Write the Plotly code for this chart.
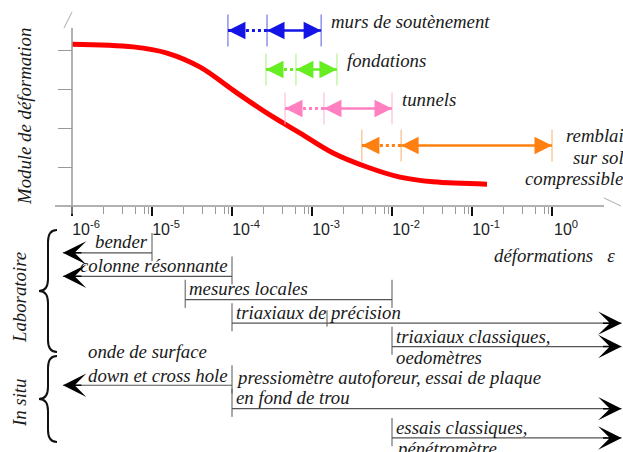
import math
import plotly.graph_objects as go

W, H = 623, 452

# ---- data -----------------------------------------------------------------
# modulus vs strain (arbitrary units)
strain_curve = [1e-6, 5.8e-6, 1.54e-5, 4.0e-5, 1.03e-4, 2.74e-4, 4.34e-4, 7.1e-4,
                1.83e-3, 4.87e-3, 1.26e-2, 3.26e-2, 0.154]
modulus_curve = [4.15, 4.08, 3.92, 3.56, 2.97, 2.38, 2.13, 1.87, 1.36, 1.0, 0.74, 0.62, 0.56]

# strain ranges of the structures (dotted part from -> mid, solid part mid -> to)
app_labels = ["murs de soutènement", "fondations", "tunnels",
              "remblais<br>sur sols<br>compressibles"]
app_from = [8.9e-5, 2.66e-4, 4.6e-4, 4.2e-3]
app_mid = [2.74e-4, 6.3e-4, 1.41e-3, 1.3e-2]
app_to = [1.3e-3, 2.05e-3, 1.0e-2, 1.0]

# strain ranges of the tests (None = open ended, arrow)
test_labels = [["bender"], ["colonne résonnante"], ["mesures locales"],
               ["triaxiaux de précision"], ["triaxiaux classiques,", "oedomètres"],
               ["onde de surface", "down et cross hole"],
               ["pressiomètre autoforeur, essai de plaque", "en fond de trou"],
               ["essais classiques,", "pénétromètre"]]
test_from = [None, None, 2.6e-5, 1e-4, 1e-2, None, 1e-4, 1e-2]
test_to = [1e-5, 1e-4, 1e-2, None, None, 1e-4, None, None]
test_marks = [None, None, None, 1.54e-3, None, None, None, None]

decades = [1e-6, 1e-5, 1e-4, 1e-3, 1e-2, 1e-1, 1e0]
decade_text = ["10<sup>-6</sup>", "10<sup>-5</sup>", "10<sup>-4</sup>", "10<sup>-3</sup>",
               "10<sup>-2</sup>", "10<sup>-1</sup>", "10<sup>0</sup>"]
minor_steps = [2.5, 4.3, 6.3, 8.1, 9.0]

# ---- layout helpers ---------------------------------------------------------
app_colors = ["#1414e6", "#66ee22", "#ff7fc0", "#ff8010"]
app_bar_colors = ["#5a5ae0", "#a8f080", "#ffb0d8", "#f5b070"]
app_rows = [4.5, 3.5, 2.5, 1.55]
test_rows = [2, 3, 4, 5, 6, 7.65, 8.65, 9.9]
test_text_mode = ["above", "above", "above", "above", "middle", "above", "above", "middle"]
OPEN_LO, OPEN_HI = 7.7e-7, 7.4
X_RANGE = [-6.9, 0.8875]
Y_SPLIT = 206  # px of the strain axis

SERIF = "Liberation Serif"
FS = 18.8
TXT = "#1a1a1a"


def px(x, y):
    return x / W, 1 - y / H


def path(points_cmds):
    out = []
    for cmd, pts in points_cmds:
        coords = " ".join("%.5f,%.5f" % px(*p) for p in pts)
        out.append(cmd + coords)
    return " ".join(out)


def brace(x_arm, x_tip, y0, y1):
    xm = (x_arm + x_tip) / 2
    ym = (y0 + y1) / 2
    return path([
        ("M", [(x_arm, y0)]),
        ("Q", [(xm, y0), (xm, y0 + 12)]),
        ("L", [(xm, ym - 12)]),
        ("Q", [(xm, ym), (x_tip, ym)]),
        ("Q", [(xm, ym), (xm, ym + 12)]),
        ("L", [(xm, y1 - 12)]),
        ("Q", [(xm, y1), (x_arm, y1)]),
    ])


def head(x, y, yref, direction, color, style, size, width, tail):
    return dict(x=math.log10(x), y=y, xref="x", yref=yref, text="", showarrow=True,
                ax=-direction * tail, ay=0, arrowhead=style, arrowsize=size,
                arrowwidth=width, arrowcolor=color, standoff=0)


def label(text, x, y, yref, xanchor, xshift=0, yshift=0, size=FS, xref="x", align="left"):
    return dict(x=x, y=y, xref=xref, yref=yref, text="<i>%s</i>" % text, showarrow=False,
                xanchor=xanchor, yanchor="middle", xshift=xshift, yshift=yshift,
                align=align, font=dict(family=SERIF, size=size, color=TXT))


def side_title(text, x, y):
    return dict(x=x / W, y=1 - y / H, xref="paper", yref="paper", text="<i>%s</i>" % text,
                showarrow=False, textangle=-90, xanchor="center", yanchor="middle",
                font=dict(family=SERIF, size=FS, color=TXT))


fig = go.Figure()
annotations = []

# modulus curve
fig.add_trace(go.Scatter(x=strain_curve, y=modulus_curve, mode="lines",
                         line=dict(color="#ff0000", width=5, shape="spline"),
                         xaxis="x", yaxis="y", hoverinfo="skip"))

# structures
for i, name in enumerate(app_labels):
    y, c = app_rows[i], app_colors[i]
    xs, ys = [], []
    for v in (app_from[i], app_mid[i], app_to[i]):
        xs += [v, v, None]
        ys += [y - 0.41, y + 0.41, None]
    fig.add_trace(go.Scatter(x=xs, y=ys, mode="lines", xaxis="x", yaxis="y",
                             line=dict(color=app_bar_colors[i], width=1), hoverinfo="skip"))
    fig.add_trace(go.Scatter(x=[app_from[i], app_mid[i]], y=[y, y], mode="lines",
                             xaxis="x", yaxis="y", hoverinfo="skip",
                             line=dict(color=c, width=3, dash="dot")))
    fig.add_trace(go.Scatter(x=[app_mid[i], app_to[i]], y=[y, y], mode="lines",
                             xaxis="x", yaxis="y", hoverinfo="skip",
                             line=dict(color=c, width=2.5)))
    annotations.append(head(app_from[i], y, "y", -1, c, 2, 1.4, 2.5, 12))
    annotations.append(head(app_mid[i], y, "y", -1, c, 2, 1.4, 2.5, 12))
    annotations.append(head(app_to[i], y, "y", 1, c, 2, 1.4, 2.5, 12))
    lines = name.split("<br>")
    if len(lines) == 1:
        annotations.append(label(name, math.log10(app_to[i]), y, "y", "left", 8, 9))
    else:
        for k, ln in enumerate(lines):
            annotations.append(label(ln, 1.016, y, "y", "right", 0, 10 - 21.5 * k,
                                     xref="paper"))

# tests
for i, lines in enumerate(test_labels):
    y = test_rows[i]
    lo = test_from[i] if test_from[i] is not None else OPEN_LO
    hi = test_to[i] if test_to[i] is not None else OPEN_HI
    fig.add_trace(go.Scatter(x=[lo, hi], y=[y, y], mode="lines", xaxis="x", yaxis="y2",
                             line=dict(color="#555555", width=1.2), hoverinfo="skip"))
    xs, ys = [], []
    for v in (test_from[i], test_to[i]):
        if v is not None:
            xs += [v, v, None]
            ys += [y - 0.85, y + 0.35, None]
    if test_marks[i] is not None:
        xs += [test_marks[i], test_marks[i], None]
        ys += [y - 0.55, y + 0.15, None]
    fig.add_trace(go.Scatter(x=xs, y=ys, mode="lines", xaxis="x", yaxis="y2",
                             line=dict(color="#555555", width=1), hoverinfo="skip"))
    if test_from[i] is None:
        annotations.append(head(OPEN_LO, y, "y2", -1, "#000000", 3, 2.6, 1.5, 20))
    if test_to[i] is None:
        annotations.append(head(OPEN_HI, y, "y2", 1, "#000000", 3, 2.6, 1.5, 20))

    if test_text_mode[i] == "above":
        shifts = [11 + 20.5 * (len(lines) - 1 - k) for k in range(len(lines))]
    else:
        shifts = [10.5, -10.5]
    if test_from[i] is None:
        annotations.append(label("<br>".join(lines), math.log10(test_to[i]), y, "y2",
                                 "right", -2, shifts[-1] + 10.5 * (len(lines) - 1)))
    else:
        for ln, s in zip(lines, shifts):
            annotations.append(label(ln, math.log10(test_from[i]), y, "y2", "left", 2, s))

# axis titles and group names
annotations += [
    side_title("Module de déformation", 24, 117),
    side_title("Laboratoire", 19, 298),
    side_title("In situ", 19, 403),
    dict(x=617 / W, y=1 - 255 / H, xref="paper", yref="paper", xanchor="right",
         text="<i>déformations\u00a0\u00a0 ε</i>", showarrow=False,
         font=dict(family=SERIF, size=FS, color=TXT)),
]

shapes = [
    # strain axis with open arrow
    dict(type="line", xref="paper", yref="paper", x0=55 / W, x1=604 / W,
         y0=1 - Y_SPLIT / H, y1=1 - Y_SPLIT / H, line=dict(color="#999999", width=1.5)),
    dict(type="path", xref="paper", yref="paper",
         path=path([("M", [(604, 198)]), ("L", [(621, 206), (604, 214)])]) + " Z",
         line=dict(color="#c0c0c0", width=1), fillcolor="white"),
    # modulus axis with open arrow
    dict(type="line", xref="paper", yref="paper", x0=72 / W, x1=72 / W,
         y0=1 - 214 / H, y1=1 - 28 / H, line=dict(color="#999999", width=1.5)),
    dict(type="path", xref="paper", yref="paper",
         path=path([("M", [(64, 28)]), ("L", [(72, 12), (80, 28)])]) + " Z",
         line=dict(color="#c0c0c0", width=1), fillcolor="white"),
    # braces
    dict(type="path", xref="paper", yref="paper", path=brace(57, 39, 230, 352),
         line=dict(color="#111111", width=2)),
    dict(type="path", xref="paper", yref="paper", path=brace(57, 39, 356, 442),
         line=dict(color="#111111", width=2)),
]

fig.update_layout(
    width=W, height=H, margin=dict(l=0, r=0, t=0, b=0, autoexpand=False),
    paper_bgcolor="white", plot_bgcolor="white", showlegend=False,
    xaxis=dict(type="log", range=X_RANGE, domain=[0, 1], anchor="y", automargin=False,
               tickvals=decades, ticktext=decade_text, ticks="outside", ticklen=9,
               tickwidth=2, tickcolor="#111111", ticklabelshift=14,
               tickfont=dict(family="Liberation Sans", size=16, color="#222222"),
               minor=dict(tickvals=[m * d for d in decades[:-1] for m in minor_steps],
                          ticks="outside", ticklen=7, tickcolor="#999999", tickwidth=1,
                          showgrid=False),
               showline=False, showgrid=False, zeroline=False),
    yaxis=dict(domain=[1 - Y_SPLIT / H, 1], range=[0, Y_SPLIT / 39], anchor="free",
               position=72 / W, tickvals=[1, 2, 3, 4], ticks="outside", ticklen=14,
               tickcolor="#999999", showticklabels=False, showline=False, automargin=False,
               showgrid=False, zeroline=False),
    yaxis2=dict(domain=[0, 1 - Y_SPLIT / H], range=[10.5, 0], visible=False),
    annotations=annotations,
    shapes=shapes,
)

fig.write_html("out.html", config={"displayModeBar": False},
               post_script="document.body.style.margin = '0';")
